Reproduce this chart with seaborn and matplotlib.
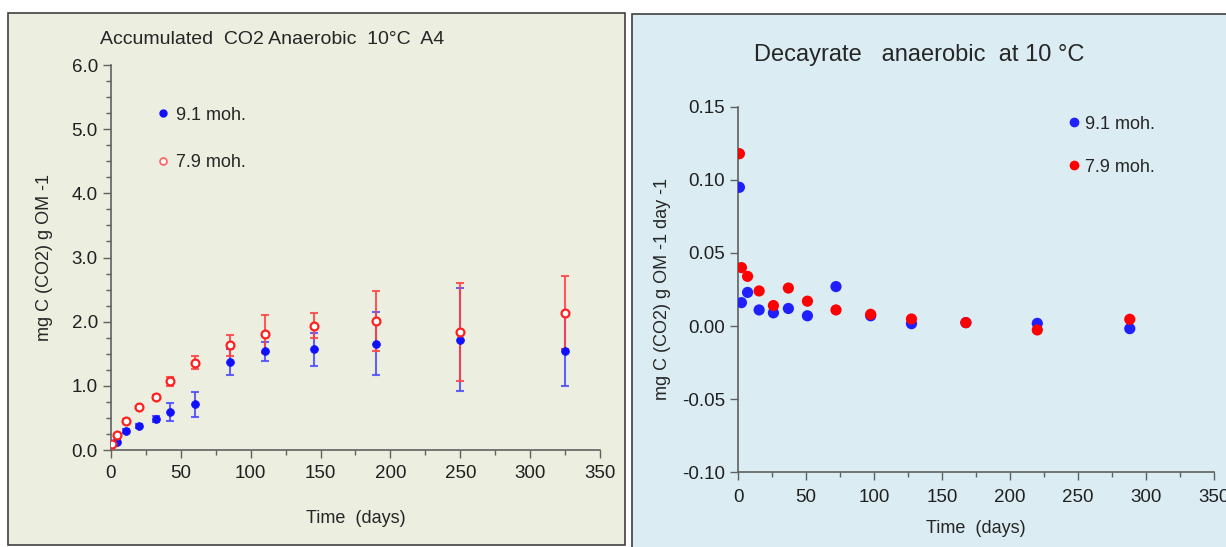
import matplotlib
matplotlib.use("Agg")
import matplotlib.pyplot as plt
import matplotlib.patches as mpatches
from matplotlib.ticker import MultipleLocator, FormatStrFormatter
from matplotlib.lines import Line2D
import pandas as pd
import seaborn as sns

# accumulated CO2 (left panel)
days_acc = [1, 4, 11, 20, 32, 42, 60, 85, 110, 145, 190, 250, 325]
acc_91 = [0.10, 0.13, 0.30, 0.38, 0.48, 0.60, 0.71, 1.37, 1.54, 1.57, 1.66, 1.72, 1.55]
err_91 = [0.02, 0.03, 0.03, 0.03, 0.05, 0.14, 0.19, 0.20, 0.15, 0.26, 0.49, 0.80, 0.55]
acc_79 = [0.10, 0.23, 0.46, 0.67, 0.83, 1.07, 1.36, 1.63, 1.81, 1.94, 2.01, 1.84, 2.14]
err_79 = [0.02, 0.02, 0.02, 0.02, 0.03, 0.07, 0.10, 0.17, 0.30, 0.19, 0.47, 0.76, 0.57]

# decay rate (right panel)
days_rate = [1, 2.5, 7, 15.5, 26, 37, 51, 72, 97.5, 127.5, 167.5, 220, 288]
rate_91 = [0.095, 0.016, 0.023, 0.011, 0.009, 0.012, 0.007, 0.027, 0.007, 0.0016, 0.0023, 0.0018, -0.0018]
rate_79 = [0.118, 0.040, 0.034, 0.024, 0.014, 0.026, 0.017, 0.011, 0.008, 0.0048, 0.0023, -0.0027, 0.0046]

labels = ["9.1 moh.", "7.9 moh."]

sns.set_style("ticks")
plt.rcParams["font.family"] = ["Liberation Sans", "DejaVu Sans"]

fig = plt.figure(figsize=(12.26, 5.47), dpi=100)
fig.patch.set_facecolor("white")

# panel backgrounds with frames (behind the axes)
fig.patches.append(mpatches.Rectangle((0.0065, 0.004), 0.503, 0.972, transform=fig.transFigure,
                                      facecolor="#ECEEE0", edgecolor="#404040", linewidth=1.2, zorder=-10))
fig.patches.append(mpatches.Rectangle((0.5155, -0.02), 0.50, 0.994, transform=fig.transFigure,
                                      facecolor="#DBEDF3", edgecolor="#404040", linewidth=1.2, zorder=-10))

axis_col = "#606060"


def style_axis(ax):
    ax.set_facecolor("none")
    sns.despine(ax=ax)
    for s in ["left", "bottom"]:
        ax.spines[s].set_color(axis_col)
        ax.spines[s].set_linewidth(1.2)
    ax.tick_params(which="major", direction="out", length=6, width=1, color=axis_col,
                   labelsize=13.5, labelcolor="#202020")
    ax.tick_params(which="minor", direction="out", length=3.5, width=1, color=axis_col)
    ax.xaxis.set_major_locator(MultipleLocator(50))
    ax.xaxis.set_minor_locator(MultipleLocator(25))
    ax.set_xlim(0, 350)


# ---------- left panel ----------
ax1 = fig.add_axes([0.0905, 0.1773, 0.3989, 0.7038])
style_axis(ax1)
ax1.errorbar(days_acc, acc_91, yerr=err_91, fmt="none", ecolor="#4a4aff", elinewidth=1.5,
             capsize=3, capthick=1.5, alpha=0.85, zorder=2)
ax1.errorbar(days_acc, acc_79, yerr=err_79, fmt="none", ecolor="#ff4040", elinewidth=1.5,
             capsize=3, capthick=1.5, alpha=0.85, zorder=3)
df1 = pd.DataFrame({"day": days_acc, "v91": acc_91, "v79": acc_79})
sns.scatterplot(data=df1, x="day", y="v91", ax=ax1, color="#1010ff", s=32,
                edgecolor="#1010ff", linewidth=0.5, zorder=4)
sns.scatterplot(data=df1, x="day", y="v79", ax=ax1, color="white", s=32,
                edgecolor="#ff2020", linewidth=1.6, zorder=5)
ax1.set_ylim(0, 6)
ax1.yaxis.set_major_locator(MultipleLocator(1))
ax1.yaxis.set_minor_locator(MultipleLocator(0.25))
ax1.yaxis.set_major_formatter(FormatStrFormatter("%.1f"))
ax1.tick_params(axis="x", pad=5)
ax1.set_xlabel("Time  (days)", fontsize=13, labelpad=20)
ax1.set_ylabel("mg C (CO2) g OM -1", fontsize=13, labelpad=13)
ax1.set_title("Accumulated  CO2 Anaerobic  10°C  A4", fontsize=14, pad=15, x=0.33)
h1 = [Line2D([], [], ls="none", marker="o", ms=5, mfc="#1010ff", mec="#1010ff"),
      Line2D([], [], ls="none", marker="o", ms=5, mfc="white", mec="#ff6060", mew=1.2)]
ax1.legend(h1, labels, loc="upper left", bbox_to_anchor=(0.062, 0.934), frameon=False,
           fontsize=13, handlelength=0.6, handletextpad=0.4, labelspacing=1.7)

# ---------- right panel ----------
ax2 = fig.add_axes([0.602, 0.1371, 0.3883, 0.6673])
style_axis(ax2)
df2 = pd.DataFrame({"day": days_rate, "v91": rate_91, "v79": rate_79})
sns.scatterplot(data=df2, x="day", y="v91", ax=ax2, color="#2020ff", s=65,
                edgecolor="none", zorder=4)
sns.scatterplot(data=df2, x="day", y="v79", ax=ax2, color="#ff0000", s=65,
                edgecolor="none", zorder=5)
ax2.set_ylim(-0.10, 0.15)
ax2.yaxis.set_major_locator(MultipleLocator(0.05))
ax2.yaxis.set_major_formatter(FormatStrFormatter("%.2f"))
ax2.tick_params(axis="x", pad=6)
ax2.set_xlabel("Time  (days)", fontsize=13, labelpad=10)
ax2.set_ylabel("mg C (CO2) g OM -1 day -1", fontsize=13, labelpad=8)
ax2.set_title("Decayrate   anaerobic  at 10 °C", fontsize=17, pad=33, x=0.38)
h2 = [Line2D([], [], ls="none", marker="o", ms=7, mfc="#2020ff", mec="none"),
      Line2D([], [], ls="none", marker="o", ms=7, mfc="#ff0000", mec="none")]
ax2.legend(h2, labels, loc="upper left", bbox_to_anchor=(0.661, 1.021), frameon=False,
           fontsize=13, handlelength=0.6, handletextpad=0.3, labelspacing=1.45)

fig.savefig("out.png", dpi=100)
